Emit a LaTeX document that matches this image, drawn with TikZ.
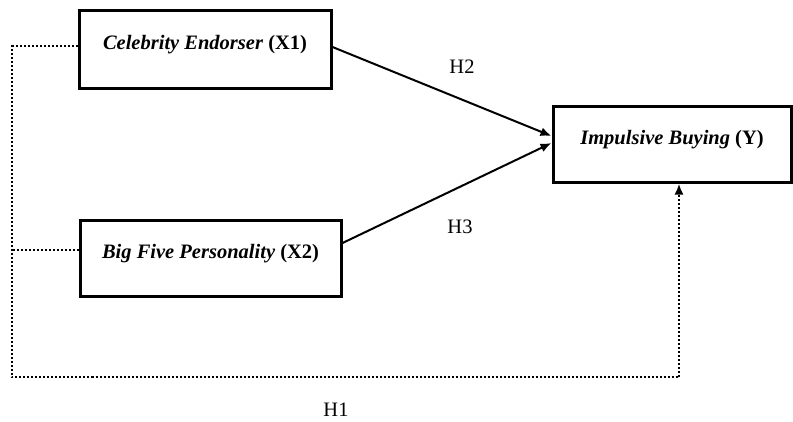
\documentclass[tikz,border=0pt]{standalone}
\usepackage{fontspec}
\setmainfont{Liberation Serif}
\usepackage{tikz}
\usetikzlibrary{arrows.meta}
\usetikzlibrary{positioning}

\tikzset{
  varbox/.style={draw, line width=3pt, inner sep=0pt, text depth=14pt,
    font=\fontsize{20.5}{24}\selectfont},
  hyp/.style={font=\fontsize{20.5}{24}\selectfont},
  path/.style={line width=2pt, -{Latex[length=11pt,width=9pt]}},
  dotpath/.style={line width=2.3pt, dash pattern=on 2pt off 2pt}
}

\begin{document}
\begin{tikzpicture}[x=1pt,y=-1pt]
\useasboundingbox (0,0) rectangle (793,421);

\node[varbox, minimum width=252, minimum height=78] (x1) at (205,49) {\textbf{\textit{Celebrity Endorser}} \textbf{(X1)}};
\node[varbox, minimum width=261, minimum height=76] (x2) at (210.5,258) {\textbf{\textit{Big Five Personality}} \textbf{(X2)}};
\node[varbox, minimum width=238, minimum height=76] (y) at (672,144) {\textbf{\textit{Impulsive Buying}} \textbf{(Y)}};

\node[hyp] (h2) at (462,67) {H2};
\node[hyp] (h3) at (460,227) {H3};
\node[hyp] (h1) at (336,410) {H1};

\coordinate (c1) at (12,46);
\coordinate (c2) at (12,250);
\coordinate (c3) at (12,377);
\coordinate (c4) at (679,377);

\draw[path] ([yshift=2pt]x1.east) -- ([yshift=8pt]y.west);
\draw[path] ([yshift=15pt]x2.east) -- ([yshift=1pt]y.west);
\draw[dotpath] ([yshift=3pt]x1.west) -- (c1) -- (c3) -- (c4);
\draw[dotpath, -{Latex[length=11pt,width=9pt]}] (c4) -- (y.south -| c4);
\draw[dotpath] ([yshift=8pt]x2.west) -- (c2);
\end{tikzpicture}
\end{document}
